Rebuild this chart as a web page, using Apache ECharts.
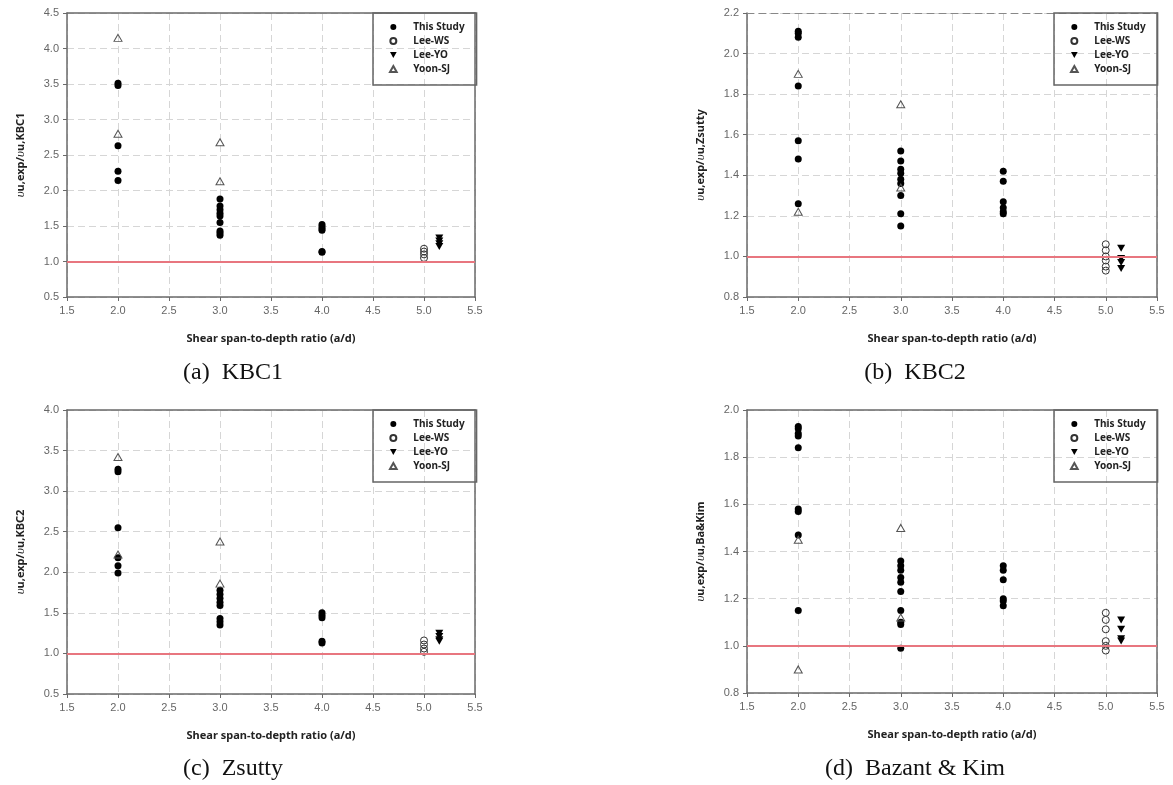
<!DOCTYPE html>
<html><head><meta charset="utf-8">
<script src="https://cdn.jsdelivr.net/npm/echarts@6/dist/echarts.min.js"></script>
<style>html,body{margin:0;padding:0;background:#fff}#c{width:1173px;height:785px}</style>
</head><body><div id="c"></div>
<script>
// ---- Data ----
const seriesNames = ['This Study', 'Lee-WS', 'Lee-YO', 'Yoon-SJ'];
const xAxisTitle = 'Shear span-to-depth ratio (a/d)';
const captions = ['(a)  KBC1', '(b)  KBC2', '(c)  Zsutty', '(d)  Bazant & Kim'];
const yTitles = ['{g|υ}u,exp/{g|υ}u,KBC1', '{g|υ}u,exp/{g|υ}u,Zsutty', '{g|υ}u,exp/{g|υ}u,KBC2', '{g|υ}u,exp/{g|υ}u,Ba&Kim'];
const yMins = [0.5, 0.8, 0.5, 0.8];
const yMaxs = [4.5, 2.2, 4.0, 2.0];
const yIntervals = [0.5, 0.2, 0.5, 0.2];

// (a) KBC1
const aStudy = [[2,3.51],[2,3.48],[2,2.63],[2,2.27],[2,2.14],
  [3,1.88],[3,1.78],[3,1.73],[3,1.68],[3,1.64],[3,1.55],[3,1.43],[3,1.40],[3,1.37],
  [4,1.52],[4,1.49],[4,1.46],[4,1.44],[4,1.14],[4,1.13]];
const aLeeWS = [[5,1.18],[5,1.14],[5,1.10],[5,1.05]];
const aLeeYO = [[5.15,1.33],[5.15,1.29],[5.15,1.25],[5.15,1.21]];
const aYoon = [[2,4.15],[2,2.80],[3,2.68],[3,2.13]];

// (b) Zsutty
const bStudy = [[2,2.11],[2,2.10],[2,2.08],[2,1.84],[2,1.57],[2,1.48],[2,1.26],
  [3,1.52],[3,1.47],[3,1.43],[3,1.41],[3,1.38],[3,1.36],[3,1.30],[3,1.21],[3,1.15],
  [4,1.42],[4,1.37],[4,1.27],[4,1.24],[4,1.22],[4,1.21]];
const bLeeWS = [[5,1.06],[5,1.03],[5,1.00],[5,0.98],[5,0.95],[5,0.93]];
const bLeeYO = [[5.15,1.04],[5.15,0.99],[5.15,0.97],[5.15,0.94]];
const bYoon = [[2,1.90],[2,1.22],[3,1.75],[3,1.34]];

// (c) KBC2 axis / Zsutty caption
const cStudy = [[2,3.27],[2,3.24],[2,2.55],[2,2.18],[2,2.08],[2,1.99],
  [3,1.78],[3,1.73],[3,1.68],[3,1.63],[3,1.59],[3,1.43],[3,1.39],[3,1.35],
  [4,1.50],[4,1.47],[4,1.44],[4,1.15],[4,1.13]];
const cLeeWS = [[5,1.16],[5,1.11],[5,1.06],[5,1.02]];
const cLeeYO = [[5.15,1.25],[5.15,1.21],[5.15,1.17],[5.15,1.15]];
const cYoon = [[2,3.42],[2,2.22],[3,2.38],[3,1.86]];

// (d) Bazant & Kim
const dStudy = [[2,1.93],[2,1.92],[2,1.90],[2,1.89],[2,1.84],[2,1.58],[2,1.57],[2,1.47],[2,1.15],
  [3,1.36],[3,1.34],[3,1.32],[3,1.29],[3,1.27],[3,1.23],[3,1.15],[3,1.10],[3,1.09],[3,0.99],
  [4,1.34],[4,1.32],[4,1.28],[4,1.20],[4,1.19],[4,1.17]];
const dLeeWS = [[5,1.14],[5,1.11],[5,1.07],[5,1.02],[5,1.00],[5,0.98]];
const dLeeYO = [[5.15,1.11],[5.15,1.07],[5.15,1.03],[5.15,1.02]];
const dYoon = [[2,1.45],[2,0.90],[3,1.50],[3,1.12]];

const panelData = [
  [aStudy, aLeeWS, aLeeYO, aYoon],
  [bStudy, bLeeWS, bLeeYO, bYoon],
  [cStudy, cLeeWS, cLeeYO, cYoon],
  [dStudy, dLeeWS, dLeeYO, dYoon]
];
const referenceLine = 1.0;

// ---- Layout ----
const grids = [
  {left: 67, top: 13, width: 408, height: 284},
  {left: 747, top: 13, width: 410, height: 284},
  {left: 67, top: 410, width: 408, height: 284},
  {left: 747, top: 410, width: 410, height: 283}
];
const captionPos = [[233, 361], [915, 361], [233, 757], [915, 757]];
const legendPos = [[373, 13], [1054, 13], [373, 410], [1054, 410]];
const topDashed = [false, true, false, false];
const yNameGaps = [40, 40, 40, 40];

const axisColor = '#6a6a6a';
const labelFont = 'Liberation Sans';
const boldFont = 'Noto Sans';

const seriesStyles = [
  {symbol: 'circle', symbolSize: 7, itemStyle: {color: '#000', opacity: 1}},
  {symbol: 'circle', symbolSize: 7, itemStyle: {color: 'rgba(0,0,0,0)', borderColor: '#333', borderWidth: 1, opacity: 1}},
  {symbol: 'path://M0,0L10,0L5,9Z', symbolSize: [8, 7], itemStyle: {color: '#000', opacity: 1}},
  {symbol: 'path://M5,0L10,9L0,9Z', symbolSize: [8, 7], itemStyle: {color: 'rgba(0,0,0,0)', borderColor: '#555', borderWidth: 1, opacity: 1}}
];

const xAxes = [], yAxes = [], series = [], legends = [], titles = [];
grids.forEach((g, i) => {
  xAxes.push({
    gridIndex: i, type: 'value', min: 1.5, max: 5.5, interval: 0.5,
    axisLine: {show: true, onZero: false, lineStyle: {color: axisColor, width: 1.5}},
    axisTick: {show: true, length: 4, lineStyle: {color: axisColor}},
    axisLabel: {color: '#666', fontSize: 11, fontFamily: labelFont, margin: 8, formatter: v => v.toFixed(1)},
    splitLine: {show: true, lineStyle: {color: '#d6d6d6', type: [7, 4]}},
    name: xAxisTitle, nameLocation: 'middle', nameGap: 36,
    nameTextStyle: {fontWeight: 'bold', fontSize: 11, color: '#222', fontFamily: boldFont}
  });
  xAxes.push({
    gridIndex: i, type: 'value', position: 'top', min: 1.5, max: 5.5,
    axisLine: {show: true, onZero: false, lineStyle: topDashed[i] ? {color: '#888', width: 1, type: [7, 5]} : {color: axisColor, width: 1.5}},
    axisTick: {show: false}, axisLabel: {show: false}, splitLine: {show: false}
  });
  yAxes.push({
    gridIndex: i, type: 'value', min: yMins[i], max: yMaxs[i], interval: yIntervals[i],
    axisLine: {show: true, onZero: false, lineStyle: {color: axisColor, width: 1.5}},
    axisTick: {show: true, length: 4, lineStyle: {color: axisColor}},
    axisLabel: {color: '#666', fontSize: 11, fontFamily: labelFont, margin: 8, formatter: v => v.toFixed(1)},
    splitLine: {show: true, lineStyle: {color: '#d6d6d6', type: [7, 4]}},
    name: yTitles[i], nameLocation: 'middle', nameGap: yNameGaps[i], nameRotate: 90,
    nameTextStyle: {fontWeight: 'bold', fontSize: 11, color: '#222', fontFamily: boldFont,
      rich: {g: {fontFamily: 'Liberation Serif', fontStyle: 'italic', fontWeight: 'normal', fontSize: 13, color: '#222'}}}
  });
  yAxes.push({
    gridIndex: i, type: 'value', position: 'right', min: yMins[i], max: yMaxs[i],
    axisLine: {show: true, onZero: false, lineStyle: {color: axisColor, width: 1.5}},
    axisTick: {show: false}, axisLabel: {show: false}, splitLine: {show: false}
  });
  panelData[i].forEach((d, k) => {
    const s = Object.assign({
      type: 'scatter', name: seriesNames[k], xAxisIndex: 2 * i, yAxisIndex: 2 * i,
      data: d, silent: true, emphasis: {disabled: true}
    }, seriesStyles[k]);
    if (k === 0) {
      s.markLine = {
        silent: true, symbol: ['none', 'none'], label: {show: false},
        lineStyle: {color: '#e8767f', width: 2, type: 'solid'},
        data: [{yAxis: referenceLine}]
      };
    }
    series.push(s);
  });
  legends.push({
    data: seriesNames, orient: 'vertical',
    left: legendPos[i][0], top: legendPos[i][1],
    itemWidth: 30, itemHeight: 6, itemGap: 2,
    padding: [8, 12, 10, 16],
    borderColor: '#666', borderWidth: 1.5,
    selectedMode: false,
    textStyle: {fontSize: 10, fontWeight: 'bold', color: '#222', fontFamily: boldFont, lineHeight: 12}
  });
  titles.push({
    text: captions[i], left: captionPos[i][0], top: captionPos[i][1], textAlign: 'center', padding: 0,
    textStyle: {fontFamily: 'Liberation Serif', fontSize: 24, fontWeight: 'normal', color: '#111'}
  });
});

const chart = echarts.init(document.getElementById('c'), null, {renderer: 'canvas'});
chart.setOption({
  animation: false,
  backgroundColor: '#fff',
  title: titles,
  grid: grids,
  xAxis: xAxes,
  yAxis: yAxes,
  legend: legends,
  series: series
});
</script>
</body></html>
